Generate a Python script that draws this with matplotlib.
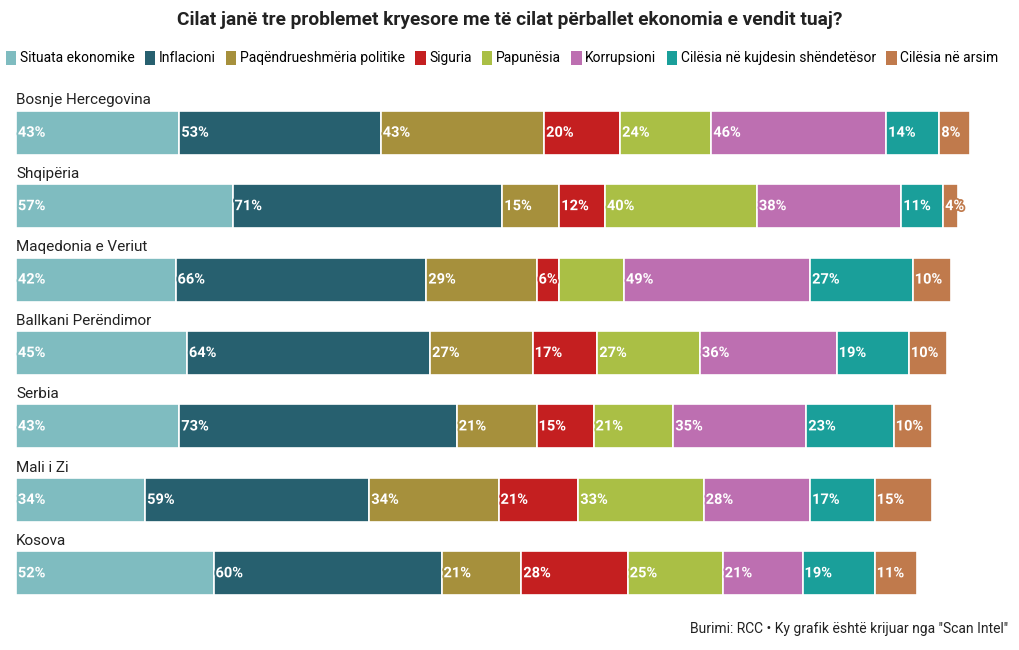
import matplotlib.pyplot as plt
import matplotlib.patheffects as pe
from matplotlib.patches import Patch
import numpy as np

plt.rcParams['font.family'] = ['Roboto', 'DejaVu Sans']

# Të dhënat
countries = ["Bosnje Hercegovina", "Shqipëria", "Maqedonia e Veriut",
             "Ballkani Perëndimor", "Serbia", "Mali i Zi", "Kosova"]
series = ["Situata ekonomike", "Inflacioni", "Paqëndrueshmëria politike", "Siguria",
          "Papunësia", "Korrupsioni", "Cilësia në kujdesin shëndetësor", "Cilësia në arsim"]
colors = ["#7fbcc0", "#27606f", "#a6903c", "#c41f20",
          "#aabf45", "#bd6fb1", "#1a9f9a", "#c07a4c"]

situata = [43, 57, 42, 45, 43, 34, 52]
inflacioni = [53, 71, 66, 64, 73, 59, 60]
paqendrueshmeria = [43, 15, 29, 27, 21, 34, 21]
siguria = [20, 12, 6, 17, 15, 21, 28]
papunesia = [24, 40, 17, 27, 21, 33, 25]
korrupsioni = [46, 38, 49, 36, 35, 28, 21]
shendetesi = [14, 11, 27, 19, 23, 17, 19]
arsimi = [8, 4, 10, 10, 10, 15, 11]

values = np.array([situata, inflacioni, paqendrueshmeria, siguria,
                   papunesia, korrupsioni, shendetesi, arsimi])
# segmenti pa etiketë në origjinal (Papunësia te Maqedonia)
hidden = {(4, 2)}

W, H = 1020, 650
fig = plt.figure(figsize=(W / 100, H / 100), dpi=100)
px = 3.8  # piksel për 1%
ax = fig.add_axes([16 / W, 1 - 610 / H, 990 / W, 514 / H])
ax.set_xlim(0, 990 / px)
ax.set_ylim(6.5, -0.5)
ax.axis('off')

y = np.arange(len(countries))
left = np.zeros(len(countries))
for s in range(len(series)):
    ax.barh(y, values[s], left=left, height=0.6, color=colors[s],
            edgecolor='white', linewidth=1.2)
    for i in range(len(countries)):
        if (s, i) in hidden:
            continue
        ax.text(left[i] + 0.5, y[i], f"{values[s][i]}%", color='white',
                fontsize=10.5, fontweight='semibold', va='center', ha='left',
                path_effects=[pe.withStroke(linewidth=2.5, foreground=colors[s])])
    left += values[s]

for i, c in enumerate(countries):
    ax.text(0, y[i] - 0.44, c, fontsize=11, color='#222222', va='center', ha='left')

fig.text(0.5, 1 - 20 / H, "Cilat janë tre problemet kryesore me të cilat përballet ekonomia e vendit tuaj?",
         ha='center', va='center', fontsize=13.8, fontweight='bold', color='#222222')

handles = [Patch(facecolor=c, edgecolor='none') for c in colors]
fig.legend(handles, series, loc='center', bbox_to_anchor=(502 / W, 1 - 58 / H), ncol=8,
           frameon=False, fontsize=10, handlelength=0.75, handleheight=1.2,
           handletextpad=0.25, columnspacing=0.75, borderaxespad=0, borderpad=0)

fig.text(1 - 12 / W, 1 - 629 / H, 'Burimi: RCC • Ky grafik është krijuar nga "Scan Intel"',
         ha='right', va='center', fontsize=10, color='#222222')

fig.savefig("out.png", dpi=100)
